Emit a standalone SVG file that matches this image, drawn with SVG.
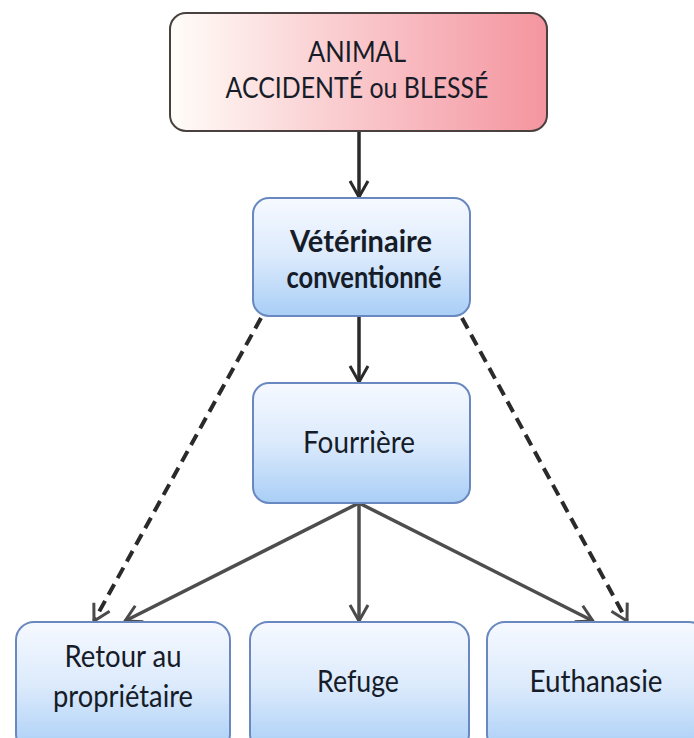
<svg xmlns="http://www.w3.org/2000/svg" width="694" height="738" viewBox="0 0 694 738">
<defs>
<linearGradient id="gPink" x1="0" y1="0" x2="1" y2="0">
<stop offset="0" stop-color="#fffdf8"/>
<stop offset="0.35" stop-color="#fbd6d8"/>
<stop offset="1" stop-color="#f4959f"/>
</linearGradient>
<linearGradient id="gBlue" x1="0" y1="0" x2="0" y2="1">
<stop offset="0" stop-color="#f6f9ff"/>
<stop offset="0.5" stop-color="#dbeafc"/>
<stop offset="1" stop-color="#a9cef6"/>
</linearGradient>
<marker id="ahDark" viewBox="0 0 22 22" refX="20" refY="11" markerWidth="22" markerHeight="22" markerUnits="userSpaceOnUse" orient="auto">
<path d="M4,2 L20,11 L4,20" fill="none" stroke="#2a2a2a" stroke-width="3"/>
</marker>
<marker id="ahGray" viewBox="0 0 22 22" refX="20" refY="11" markerWidth="22" markerHeight="22" markerUnits="userSpaceOnUse" orient="auto">
<path d="M4,2 L20,11 L4,20" fill="none" stroke="#4a4a4a" stroke-width="3"/>
</marker>
</defs>
<style>
.blue{fill:url(#gBlue);stroke:#6a88c0;stroke-width:2}
.pink{fill:url(#gPink);stroke:#4a4040;stroke-width:2}
.t{font-family:Lato,"Open Sans","Liberation Sans",sans-serif;font-size:30px;fill:#161c28;text-anchor:middle}
.s{font-size:28px}
.b{font-weight:bold}
.solid{fill:none;stroke:#2a2a2a;stroke-width:3.5;marker-end:url(#ahDark)}
.branch{fill:none;stroke:#4d4d4d;stroke-width:3.5;marker-end:url(#ahGray)}
.dash{fill:none;stroke:#2a2a2a;stroke-width:4;stroke-dasharray:12 7;marker-end:url(#ahGray)}
</style>
<rect width="694" height="738" fill="#ffffff"/>
<g id="connectors">
<path class="solid" d="M359,132 L359,197"/>
<path class="solid" d="M359,317 L359,382"/>
<path class="branch" d="M359,503 L359,621"/>
<path class="branch" d="M359,503 L125,621"/>
<path class="branch" d="M359,503 L593,621"/>
<path class="dash" d="M261,318 L94,621"/>
<path class="dash" d="M462,318 L627,621"/>
</g>
<g id="animal">
<rect class="pink" x="170" y="13" width="377" height="118" rx="16"/>
<text class="t s" x="357" y="62" textLength="98" lengthAdjust="spacingAndGlyphs">ANIMAL</text>
<text class="t s" x="357" y="98" textLength="263" lengthAdjust="spacingAndGlyphs">ACCIDENTÉ ou BLESSÉ</text>
</g>
<g id="veterinaire">
<rect class="blue" x="253" y="198" width="217" height="118" rx="16"/>
<text class="t b" x="361" y="252" textLength="142" lengthAdjust="spacingAndGlyphs">Vétérinaire</text>
<text class="t b" x="364" y="288" textLength="155" lengthAdjust="spacingAndGlyphs">conventionné</text>
</g>
<g id="fourriere">
<rect class="blue" x="253" y="383" width="217" height="120" rx="16"/>
<text class="t" x="359" y="453" textLength="112" lengthAdjust="spacingAndGlyphs">Fourrière</text>
</g>
<g id="retour">
<rect class="blue" x="16" y="622" width="214" height="130" rx="18"/>
<text class="t" x="123" y="667" textLength="117" lengthAdjust="spacingAndGlyphs">Retour au</text>
<text class="t" x="123" y="707" textLength="140" lengthAdjust="spacingAndGlyphs">propriétaire</text>
</g>
<g id="refuge">
<rect class="blue" x="250" y="622" width="219" height="130" rx="18"/>
<text class="t" x="358" y="692" textLength="82" lengthAdjust="spacingAndGlyphs">Refuge</text>
</g>
<g id="euthanasie">
<rect class="blue" x="487" y="622" width="220" height="130" rx="18"/>
<text class="t" x="596" y="692" textLength="133" lengthAdjust="spacingAndGlyphs">Euthanasie</text>
</g>
</svg>
